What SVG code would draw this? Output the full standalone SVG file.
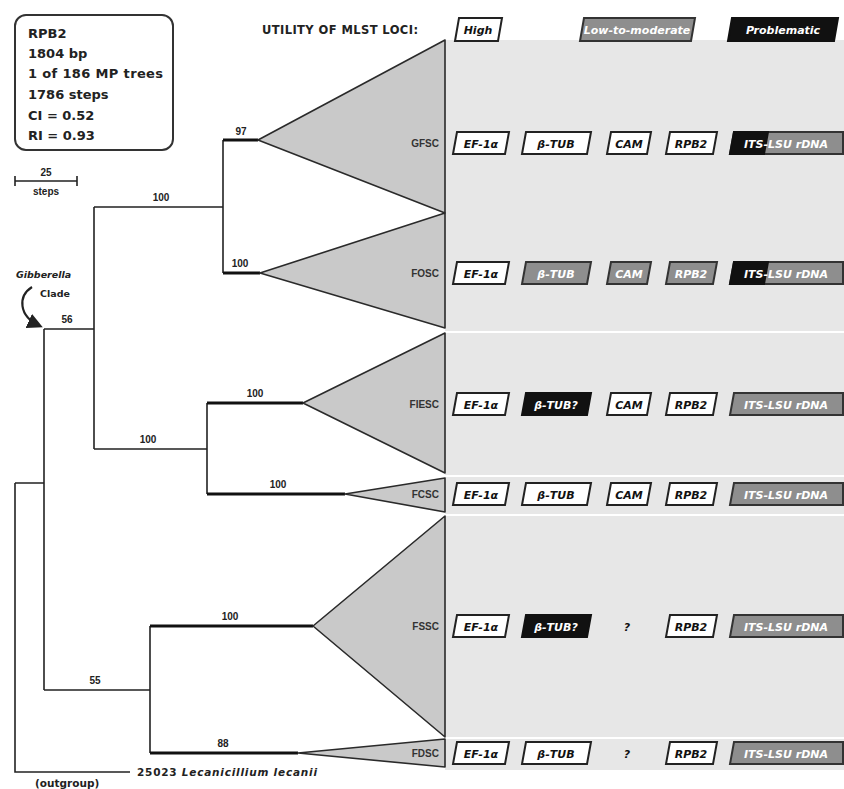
<svg xmlns="http://www.w3.org/2000/svg" width="844" height="789" viewBox="0 0 844 789">
<style>
.t{font-family:"DejaVu Sans","Liberation Sans",Arial,sans-serif;font-weight:bold;fill:#222}
.bs{font-family:"Liberation Sans",Arial,sans-serif;font-weight:bold;font-size:10px;fill:#222;text-anchor:middle}
.lab{font-family:"Liberation Sans",Arial,sans-serif;font-weight:bold;font-size:10px;fill:#333;text-anchor:end}
.bx{font-family:"DejaVu Sans","Liberation Sans",Arial,sans-serif;font-weight:bold;font-style:italic;font-size:11px;text-anchor:middle}
.wb{fill:#fff;stroke:#222;stroke-width:2}
.gb{fill:#8e8e8e;stroke:#333;stroke-width:2}
.kb{fill:#111;stroke:#111;stroke-width:2}
.tk{fill:#111}
.tw{fill:#fff}
.tri{fill:#c9c9c9;stroke:#2a2a2a;stroke-width:1.6;stroke-linejoin:round}
.br{fill:none;stroke:#222;stroke-width:1.6}
.th{fill:none;stroke:#111;stroke-width:3.2}
.sep{stroke:#fff;stroke-width:2}
</style>
<defs>
<marker id="ah" viewBox="0 0 10 10" refX="8" refY="5" markerWidth="7" markerHeight="7" orient="auto"><path d="M0,0 L10,5 L0,10 z" fill="#222"/></marker>
</defs>
<rect width="844" height="789" fill="#fff"/>
<rect x="445" y="40" width="399" height="730" fill="#e7e7e7"/>
<g id="separators">
<line class="sep" x1="445" y1="332" x2="844" y2="332"/>
<line class="sep" x1="445" y1="476" x2="844" y2="476"/>
<line class="sep" x1="445" y1="515" x2="844" y2="515"/>
<line class="sep" x1="445" y1="738" x2="844" y2="738"/>
</g>
<g id="info">
<rect x="15" y="15" width="158" height="135" rx="11" fill="#fff" stroke="#333" stroke-width="2"/>
<text class="t" font-size="13" x="28" y="38">RPB2</text>
<text class="t" font-size="13" x="28" y="58">1804 bp</text>
<text class="t" font-size="13" x="28" y="78" textLength="135">1 of 186 MP trees</text>
<text class="t" font-size="13" x="28" y="99">1786 steps</text>
<text class="t" font-size="13" x="28" y="120">CI = 0.52</text>
<text class="t" font-size="13" x="28" y="140">RI = 0.93</text>
</g>
<g id="scale">
<path class="br" d="M15,181 H77 M15,176 V186 M77,176 V186"/>
<text class="bs" x="46" y="176">25</text>
<text class="bs" x="46" y="195">steps</text>
</g>
<g id="legend">
<text class="t" font-size="11.5" x="262" y="34" textLength="156">UTILITY OF MLST LOCI:</text>
<polygon class="wb" points="459,18 502,18 498,41 455,41"/>
<text class="bx tk" x="478" y="34">High</text>
<polygon class="gb" points="584,18 695,18 691,41 580,41"/>
<text class="bx tw" x="637" y="34">Low-to-moderate</text>
<polygon class="kb" points="732,18 838,18 834,41 728,41"/>
<text class="bx tw" x="783" y="34">Problematic</text>
</g>
<g id="connectors">
<path class="br" d="M15,483 V772 H130 M15,483 H44 M44,329 V690 M44,329 H94 M94,207 V449 M94,207 H223 M223,140 V273 M94,449 H207 M207,403 V494 M44,690 H150 M150,626 V753"/>
<path class="th" d="M223,140 H258 M223,273 H260 M207,403 H303 M207,494 H345 M150,626 H313 M150,753 H298"/>
<text class="bs" x="241" y="135">97</text>
<text class="bs" x="240" y="267">100</text>
<text class="bs" x="161" y="201">100</text>
<text class="bs" x="67" y="323">56</text>
<text class="bs" x="148" y="443">100</text>
<text class="bs" x="255" y="397">100</text>
<text class="bs" x="278" y="488">100</text>
<text class="bs" x="95" y="684">55</text>
<text class="bs" x="230" y="620">100</text>
<text class="bs" x="223" y="747">88</text>
<text class="t" font-size="9.5" font-style="italic" x="16" y="278">Gibberella</text>
<text class="t" font-size="9.5" x="40" y="297">Clade</text>
<path d="M32,287 C18,296 18,316 40,326" fill="none" stroke="#222" stroke-width="2.2" marker-end="url(#ah)"/>
<text class="t" font-size="10.5" x="137" y="776" textLength="180"><tspan>25023 </tspan><tspan font-style="italic">Lecanicillium lecanii</tspan></text>
<text class="t" font-size="10.5" x="35" y="787">(outgroup)</text>
</g>
<g id="GFSC">
<polygon class="tri" points="258,140 445,40 445,213"/>
<text class="lab" x="439" y="147">GFSC</text>
<polygon class="wb" points="457,132 509,132 505,154 453,154"/><text class="bx tk" x="481" y="148">EF-1α</text>
<polygon class="wb" points="526,132 591,132 587,154 522,154"/><text class="bx tk" x="556" y="148">β-TUB</text>
<polygon class="wb" points="611,132 651,132 647,154 607,154"/><text class="bx tk" x="629" y="148">CAM</text>
<polygon class="wb" points="670,132 717,132 713,154 666,154"/><text class="bx tk" x="691" y="148">RPB2</text>
<polygon class="gb" points="734,132 843,132 843,154 730,154"/><polygon class="kb" points="734,132 768,132 764,154 730,154"/><text class="bx tw" x="786" y="148">ITS-LSU rDNA</text>
</g>
<g id="FOSC">
<polygon class="tri" points="260,273 445,213 445,328"/>
<text class="lab" x="439" y="277">FOSC</text>
<polygon class="wb" points="457,262 509,262 505,284 453,284"/><text class="bx tk" x="481" y="278">EF-1α</text>
<polygon class="gb" points="526,262 591,262 587,284 522,284"/><text class="bx tw" x="556" y="278">β-TUB</text>
<polygon class="gb" points="611,262 651,262 647,284 607,284"/><text class="bx tw" x="629" y="278">CAM</text>
<polygon class="gb" points="670,262 717,262 713,284 666,284"/><text class="bx tw" x="691" y="278">RPB2</text>
<polygon class="gb" points="734,262 843,262 843,284 730,284"/><polygon class="kb" points="734,262 768,262 764,284 730,284"/><text class="bx tw" x="786" y="278">ITS-LSU rDNA</text>
</g>
<g id="FIESC">
<polygon class="tri" points="303,403 445,333 445,473"/>
<text class="lab" x="439" y="408">FIESC</text>
<polygon class="wb" points="457,393 509,393 505,415 453,415"/><text class="bx tk" x="481" y="409">EF-1α</text>
<polygon class="kb" points="526,393 591,393 587,415 522,415"/><text class="bx tw" x="556" y="409">β-TUB?</text>
<polygon class="wb" points="611,393 651,393 647,415 607,415"/><text class="bx tk" x="629" y="409">CAM</text>
<polygon class="wb" points="670,393 717,393 713,415 666,415"/><text class="bx tk" x="691" y="409">RPB2</text>
<polygon class="gb" points="734,393 843,393 843,415 730,415"/><text class="bx tw" x="786" y="409">ITS-LSU rDNA</text>
</g>
<g id="FCSC">
<polygon class="tri" points="345,494 445,478 445,512"/>
<text class="lab" x="439" y="498">FCSC</text>
<polygon class="wb" points="457,483 509,483 505,505 453,505"/><text class="bx tk" x="481" y="499">EF-1α</text>
<polygon class="wb" points="526,483 591,483 587,505 522,505"/><text class="bx tk" x="556" y="499">β-TUB</text>
<polygon class="wb" points="611,483 651,483 647,505 607,505"/><text class="bx tk" x="629" y="499">CAM</text>
<polygon class="wb" points="670,483 717,483 713,505 666,505"/><text class="bx tk" x="691" y="499">RPB2</text>
<polygon class="gb" points="734,483 843,483 843,505 730,505"/><text class="bx tw" x="786" y="499">ITS-LSU rDNA</text>
</g>
<g id="FSSC">
<polygon class="tri" points="313,626 445,516 445,737"/>
<text class="lab" x="439" y="630">FSSC</text>
<polygon class="wb" points="457,615 509,615 505,637 453,637"/><text class="bx tk" x="481" y="631">EF-1α</text>
<polygon class="kb" points="526,615 591,615 587,637 522,637"/><text class="bx tw" x="556" y="631">β-TUB?</text>
<text class="bx tk" x="627" y="631">?</text>
<polygon class="wb" points="670,615 717,615 713,637 666,637"/><text class="bx tk" x="691" y="631">RPB2</text>
<polygon class="gb" points="734,615 843,615 843,637 730,637"/><text class="bx tw" x="786" y="631">ITS-LSU rDNA</text>
</g>
<g id="FDSC">
<polygon class="tri" points="298,753 445,739 445,767"/>
<text class="lab" x="439" y="757">FDSC</text>
<polygon class="wb" points="457,742 509,742 505,764 453,764"/><text class="bx tk" x="481" y="758">EF-1α</text>
<polygon class="wb" points="526,742 591,742 587,764 522,764"/><text class="bx tk" x="556" y="758">β-TUB</text>
<text class="bx tk" x="627" y="758">?</text>
<polygon class="wb" points="670,742 717,742 713,764 666,764"/><text class="bx tk" x="691" y="758">RPB2</text>
<polygon class="gb" points="734,742 843,742 843,764 730,764"/><text class="bx tw" x="786" y="758">ITS-LSU rDNA</text>
</g>
</svg>
